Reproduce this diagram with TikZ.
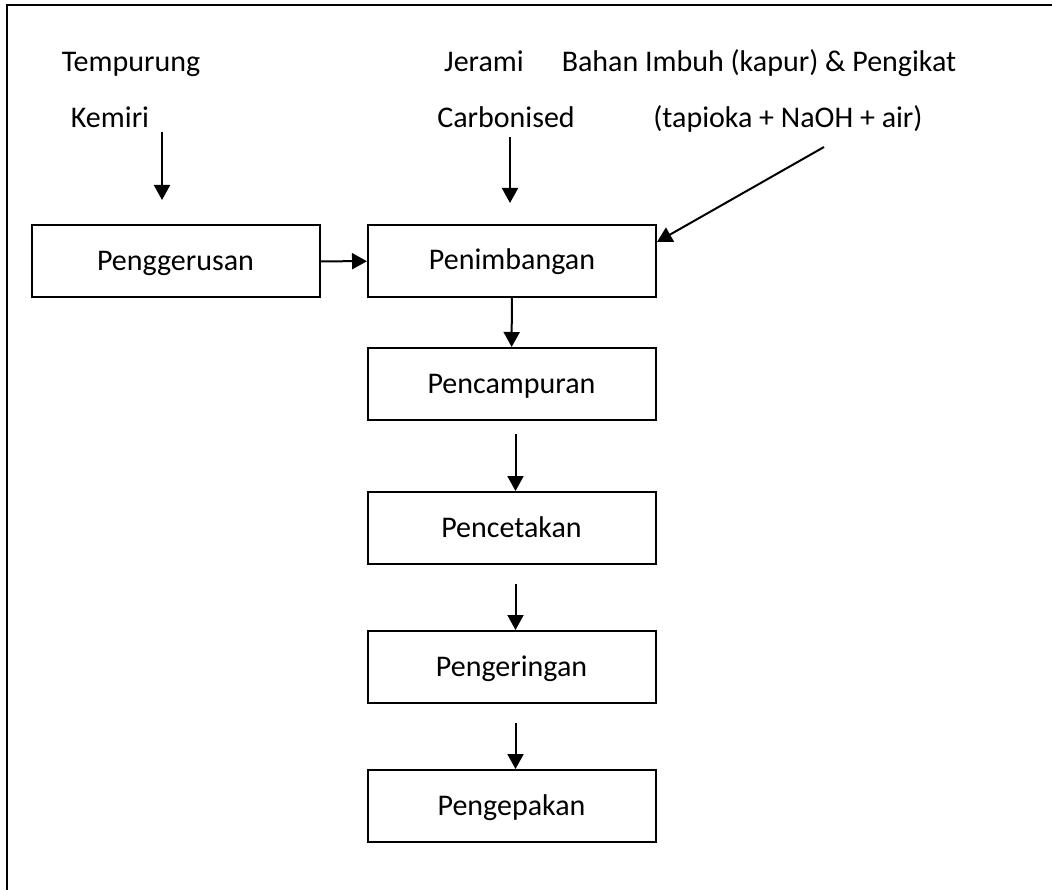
\documentclass[tikz,border=0pt]{standalone}
\usepackage{fontspec}
\setmainfont{Carlito}
\usepackage{tikz}
\usetikzlibrary{arrows.meta}
\tikzset{
  fc_txt/.style = {anchor=base, inner sep=0pt,
    font=\fontsize{30}{35}\selectfont},% teks bahan
  fc_box/.style = {rectangle, draw=black, line width=2pt,
    minimum width=288pt, minimum height=72pt, inner sep=0pt,
    text height=18pt, text depth=0pt,
    font=\fontsize{30}{35}\selectfont},% kotak proses
}

\begin{document}
\begin{tikzpicture}[x=1pt,y=-1pt,->,>={Triangle[length=15pt,width=16pt]},
  line width=2pt]
  \useasboundingbox (0,0) rectangle (1052,890);
  \draw[-,line width=2.2pt] (7,890) -- (7,5) -- (1052,5);

  \node[fc_txt] (t1) at (131,72) {Tempurung};
  \node[fc_txt] (t2) at (110,128) {Kemiri};
  \node[fc_txt] (t3) at (484,72) {Jerami};
  \node[fc_txt] (t4) at (506,128) {Carbonised};
  \node[fc_txt] (t5) at (759,72) {Bahan Imbuh (kapur) \& Pengikat};
  \node[fc_txt] (t6) at (788,128) {(tapioka + NaOH + air)};

  \node[fc_box] (b0) at (175.5,261.5) {Penggerusan};
  \node[fc_box] (b1) at (512,261) {Penimbangan};
  \node[fc_box] (b2) at (511.5,384) {Pencampuran};
  \node[fc_box] (b3) at (511.5,528) {Pencetakan};
  \node[fc_box] (b4) at (511.5,667) {Pengeringan};
  \node[fc_box] (b5) at (511.5,806) {Pengepakan};

  \coordinate (k1) at (162,132);
  \coordinate (k2) at (162,200);
  \coordinate (c1) at (510,137);
  \coordinate (c2) at (510,203);
  \coordinate (m1) at (824,147);

  %   bahan masuk
  \draw (k1) -- (k2);
  \draw (c1) -- (c2);
  \draw (m1) -- ([yshift=-18pt]b1.north east);
  %   alur proses
  \path (b0) edge (b1);
  \path (b1) edge (b2);
  \draw ([xshift=4pt,yshift=-13pt]b2.south) -- ([xshift=4pt]b3.north);
  \draw ([xshift=4pt,yshift=-19pt]b3.south) -- ([xshift=4pt]b4.north);
  \draw ([xshift=4pt,yshift=-19pt]b4.south) -- ([xshift=4pt]b5.north);
\end{tikzpicture}
\end{document}
